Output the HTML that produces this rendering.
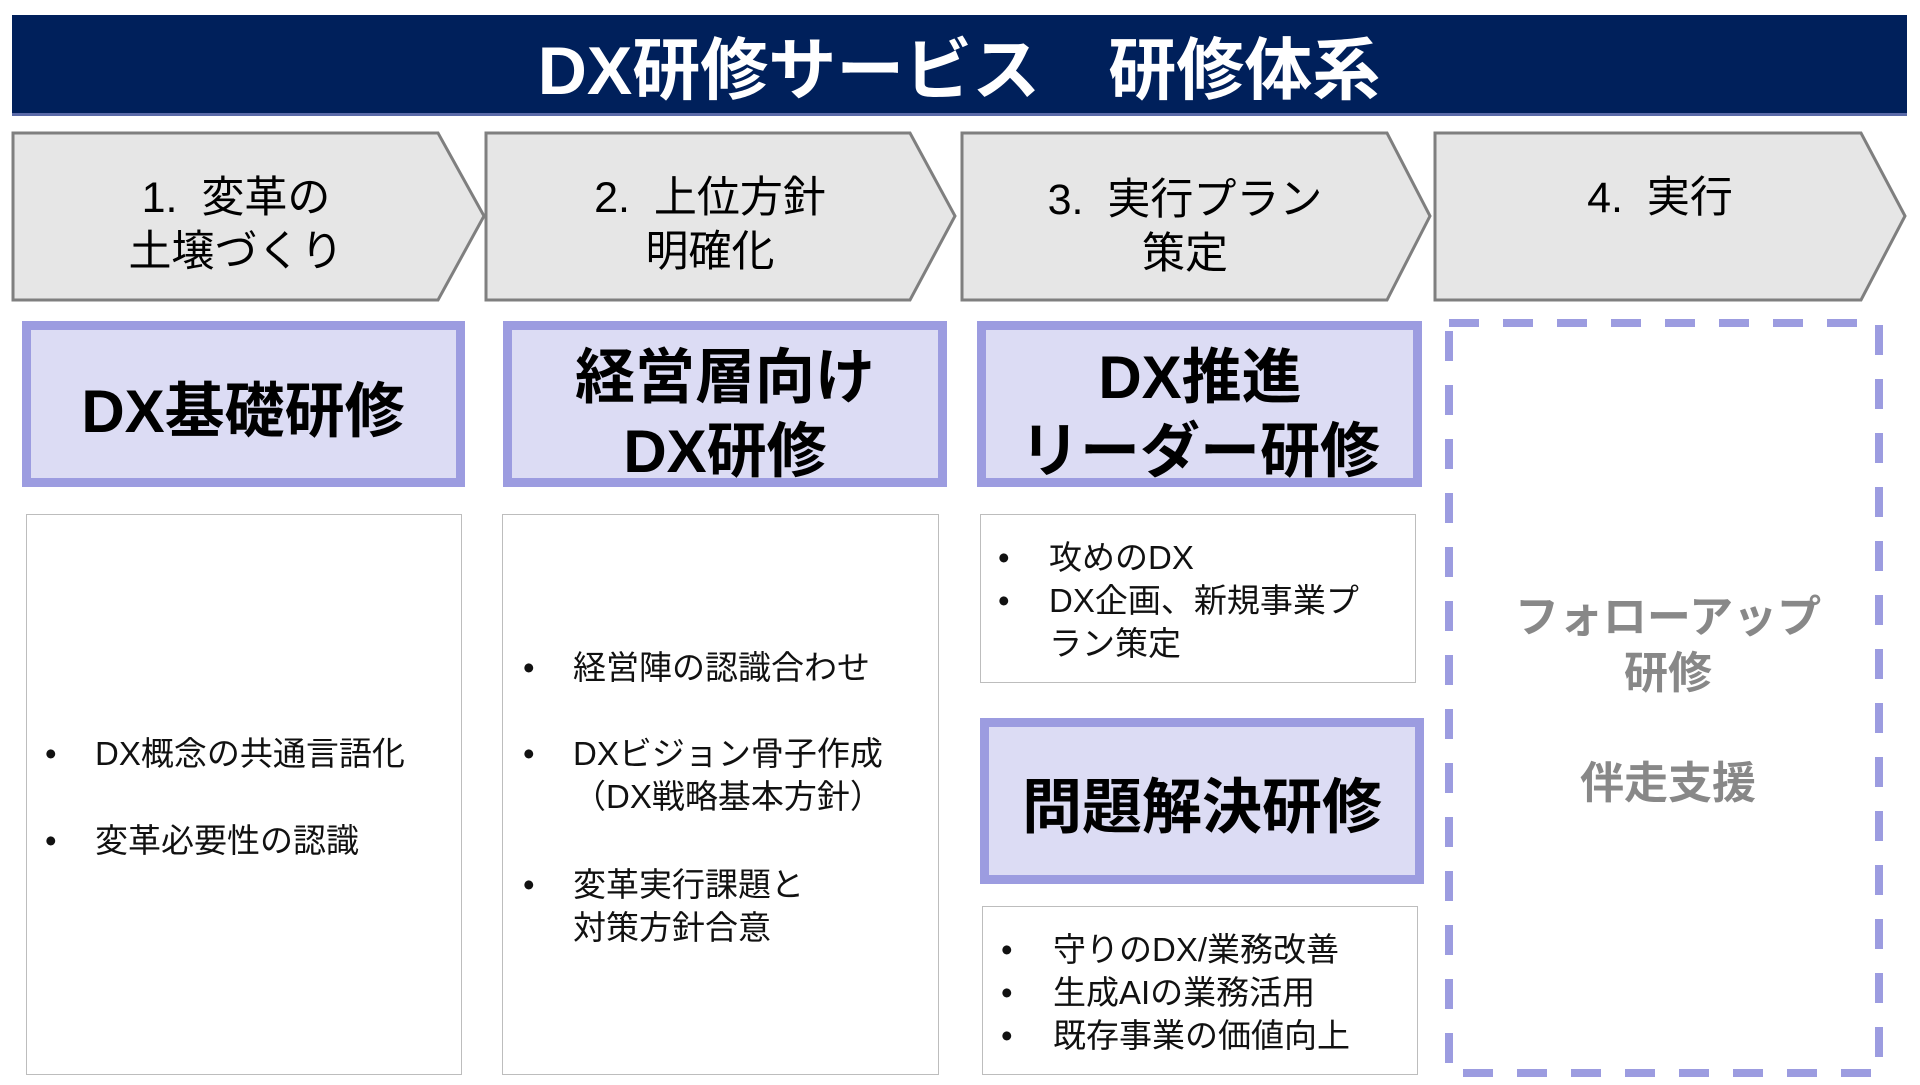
<!DOCTYPE html>
<html><head><meta charset="utf-8"><style>
body{margin:0;width:1920px;height:1080px;background:#fff;position:relative;overflow:hidden;font-family:"Liberation Sans","Noto Sans CJK JP",sans-serif;}
.a{position:absolute;white-space:nowrap;}
.c{text-align:center;transform:translateX(-50%);}
.t{line-height:1;}
.pb{position:absolute;background:#dcdcf4;border:9px solid #9c9ce0;box-sizing:border-box;}
.wb{position:absolute;background:#fff;border:1.5px solid #bdbdbd;box-sizing:border-box;}
.h{font-weight:bold;font-size:60px;color:#000;}
.s{font-size:33px;color:#111;}
.g{font-size:44px;color:#888;font-weight:bold;}
</style></head><body>
<div style="position:absolute;left:12px;top:15px;width:1895px;height:101px;background:#00205b;border-bottom:3px solid #5a6aa8;box-sizing:border-box"></div>
<div class="a c t" style="left:959px;top:37px;font-size:68px;color:#fff;font-weight:bold">DX研修サービス　研修体系</div>

<svg class="a" style="left:0;top:0" width="1920" height="320">
<g fill="#e6e6e6" stroke="#7f7f7f" stroke-width="3">
<polygon points="13,133 438,133 484,216 438,300 13,300"/>
<polygon points="486,133 910,133 955,216 910,300 486,300"/>
<polygon points="962,133 1387,133 1430,216 1387,300 962,300"/>
<polygon points="1435,133 1861,133 1905,216 1861,300 1435,300"/>
</g></svg>
<div class="a c t" style="left:236px;top:171px;font-size:43px;line-height:54px">1.&nbsp;&nbsp;変革の<br>土壌づくり</div>
<div class="a c t" style="left:710px;top:171px;font-size:43px;line-height:54px">2.&nbsp;&nbsp;上位方針<br>明確化</div>
<div class="a c t" style="left:1185px;top:173px;font-size:43px;line-height:54px">3.&nbsp;&nbsp;実行プラン<br>策定</div>
<div class="a c t" style="left:1660px;top:171px;font-size:43px;line-height:54px">4.&nbsp;&nbsp;実行</div>

<div class="pb" style="left:22px;top:321px;width:443px;height:166px"></div>
<div class="a c h" style="left:243px;top:377px;line-height:70px">DX基礎研修</div>
<div class="pb" style="left:503px;top:321px;width:444px;height:166px"></div>
<div class="a c h" style="left:725px;top:341px;line-height:74px">経営層向け<br>DX研修</div>
<div class="pb" style="left:977px;top:321px;width:445px;height:166px"></div>
<div class="a c h" style="left:1200px;top:341px;line-height:74px">DX推進<br>リーダー研修</div>
<div class="pb" style="left:980px;top:718px;width:444px;height:166px"></div>
<div class="a c h" style="left:1202px;top:773px;line-height:70px">問題解決研修</div>

<div class="wb" style="left:26px;top:514px;width:436px;height:561px"></div>
<div class="wb" style="left:502px;top:514px;width:437px;height:561px"></div>
<div class="wb" style="left:980px;top:514px;width:436px;height:169px"></div>
<div class="wb" style="left:982px;top:906px;width:436px;height:169px"></div>

<div class="a s" style="left:45px;top:732px;line-height:43px">•</div>
<div class="a s" style="left:95px;top:732px;line-height:43px">DX概念の共通言語化</div>
<div class="a s" style="left:45px;top:819px;line-height:43px">•</div>
<div class="a s" style="left:95px;top:819px;line-height:43px">変革必要性の認識</div>

<div class="a s" style="left:523px;top:646px;line-height:43px">•</div>
<div class="a s" style="left:573px;top:646px;line-height:43px">経営陣の認識合わせ</div>
<div class="a s" style="left:523px;top:732px;line-height:43px">•</div>
<div class="a s" style="left:573px;top:732px;line-height:43px">DXビジョン骨子作成<br>（DX戦略基本方針）</div>
<div class="a s" style="left:523px;top:863px;line-height:43px">•</div>
<div class="a s" style="left:573px;top:863px;line-height:43px">変革実行課題と<br>対策方針合意</div>

<div class="a s" style="left:998px;top:536px;line-height:43px">•<br>•</div>
<div class="a s" style="left:1049px;top:536px;line-height:43px">攻めのDX<br>DX企画、新規事業プ<br>ラン策定</div>

<div class="a s" style="left:1001px;top:928px;line-height:43px">•<br>•<br>•</div>
<div class="a s" style="left:1053px;top:928px;line-height:43px">守りのDX/業務改善<br>生成AIの業務活用<br>既存事業の価値向上</div>

<svg class="a" style="left:1436px;top:315px" width="460" height="770">
<rect x="13" y="8" width="430" height="750" fill="none" stroke="#9c9ce0" stroke-width="8" stroke-dasharray="30 24"/>
</svg>
<div class="a c g" style="left:1668px;top:590px;line-height:56px">フォローアップ<br>研修</div>
<div class="a c g" style="left:1668px;top:756px;line-height:56px">伴走支援</div>
</body></html>
